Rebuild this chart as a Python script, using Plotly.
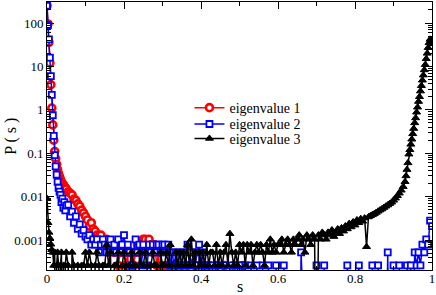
import numpy as np
import plotly.graph_objects as go

# ---------------- data ----------------
# fine bins near s = 0 (step 0.0025, s = 0 ... 0.05)
s_fine0 = np.round(np.arange(0, 0.05001, 0.0025), 4)
# coarse bins (step 0.005)
s_coarse_red = np.round(np.arange(0.055, 0.55001, 0.005), 4)
s_coarse_blue = np.round(np.arange(0.055, 1.00001, 0.005), 4)
s_coarse_black = np.round(np.arange(0.055, 0.93001, 0.005), 4)
# fine bins near s = 1 (step 0.0025)
s_fine1 = np.round(np.arange(0.9325, 1.00001, 0.0025), 4)

red_fine = [250, 95, 36, 12, 3.8, 1.1, 0.45, 0.2, 0.11, 0.075, 0.055, 0.042, 0.034,
            0.029, 0.025, 0.022, 0.02, 0.019, 0.017, 0.016, 0.015]
red_coarse = [
    0.013, 0.012, 0.011, 0.0088, 0.0082, 0.0068, 0.006, 0.0049, 0.0042, 0.0035,
    0.0029, 0.0021, 0.0025, 0.0018, 0.0016, 0.0013, 0.0012, 0.0013, 0.0009, 0.00078,
    0.00104, 0.00052, 0.00078, 0.00078, 0.00052, 0.00078, 0.00026, 0.00052, 0.00078, 0.00052,
    0.00026, 0.00052, 0, 0.00052, 0.00026, 0.00052, 0.00078, 0.00052, 0.00078, 0.00104,
    0.00104, 0.00078, 0.00104, 0.00078, 0.00052, 0.00078, 0.00026, 0.00052, 0, 0.00026,
    0, 0.00026, 0, 0.00026, 0, 0, 0.00026, 0, 0, 0.00026,
    0, 0, 0.00026, 0, 0, 0, 0.00026, 0, 0, 0,
    0.00026, 0, 0, 0.00026, 0, 0, 0, 0.00026, 0, 0,
    0, 0.00026, 0, 0, 0, 0, 0.00026, 0, 0, 0,
    0, 0.00026, 0, 0, 0, 0, 0, 0, 0, 0,
]

blue_fine = [250, 90, 42, 16, 6, 2.2, 0.75, 0.25, 0.09, 0.05, 0.032, 0.022, 0.016,
             0.013, 0.011, 0.0075, 0.009, 0.0055, 0.0075, 0.0048, 0.0062]
blue_coarse = [
    0.0065, 0.0035, 0.0045, 0.0025, 0.0035, 0.0018, 0.0023, 0.0014, 0.0017, 0.0012,
    0.00104, 0.0013, 0.00078, 0.00104, 0.00078, 0.00104, 0.00052, 0.00078, 0.00104, 0.00078,
    0.00052, 0.00078, 0.00104, 0.00052, 0.00078, 0.00052, 0.00104, 0.00052, 0.00078, 0.0013,
    0.00052, 0.00078, 0.00052, 0.00026, 0.00052, 0.00104, 0.00052, 0.00078, 0.00026, 0.00078,
    0.00052, 0.00026, 0.00078, 0.00052, 0.00078, 0.00052, 0.00078, 0.00078, 0.00052, 0.00078,
    0.00078, 0.00052, 0.00078, 0.00026, 0.00052, 0.00026, 0.00052, 0.00026, 0.00052, 0.00026,
    0.00052, 0.00026, 0.00078, 0.00052, 0.00026, 0.00052, 0.00026, 0.00052, 0.00078, 0.00026,
    0.00052, 0.00026, 0, 0.00026, 0, 0.00026, 0, 0, 0.00026, 0,
    0, 0.00026, 0, 0, 0.00026, 0, 0, 0, 0.00026, 0,
    0.00026, 0, 0.00026, 0, 0, 0.00026, 0, 0, 0.00026, 0,
    0, 0.00026, 0, 0, 0.00026, 0, 0, 0, 0.00026, 0,
    0, 0, 0.00026, 0, 0, 0, 0, 0, 0, 0,
    0, 0.00052, 0, 0, 0, 0, 0, 0, 0, 0.00026,
    0, 0, 0, 0.00026, 0, 0, 0, 0, 0, 0,
    0, 0, 0, 0, 0, 0.00026, 0, 0, 0, 0,
    0, 0.00026, 0, 0, 0, 0, 0, 0, 0.00026, 0,
    0, 0.00026, 0, 0, 0, 0, 0.00052, 0, 0, 0.00026,
    0, 0, 0.00026, 0, 0, 0, 0.00026, 0, 0.00026, 0,
    0.00052, 0.00026, 0.00052, 0.00026, 0.00078, 0.00052, 0.00104, 0.00078, 0.0028, 0.0021,
]

black_fine0 = [0.009, 0.0025, 0.0015, 0.0011, 0.0008, 0.0006, 0.00052, 0.00026, 0.00052, 0,
               0.00026, 0.00052, 0.00026, 0, 0.00026, 0.00052, 0, 0.00026, 0, 0.00026, 0.00052]
black_coarse = [
    0.00026, 0, 0.00052, 0.00026, 0, 0.00026, 0, 0.00026, 0.00026, 0.00052,
    0.00026, 0.00052, 0.00026, 0, 0.00026, 0.00052, 0.00026, 0, 0.00026, 0.00026,
    0.00078, 0.00026, 0.00052, 0, 0.00026, 0.00026, 0.00052, 0, 0.00026, 0.00052,
    0.00026, 0, 0.00026, 0.00052, 0.00026, 0.00026, 0, 0.00052, 0.00026, 0.00026,
    0.00052, 0.00026, 0, 0.00026, 0.00052, 0.00026, 0.00026, 0, 0.00052, 0.00026,
    0.00026, 0.00052, 0.00026, 0.00078, 0.00026, 0, 0.00052, 0.00026, 0.00052, 0.00026,
    0.00052, 0.00026, 0.00078, 0.00026, 0.00104, 0.00026, 0.00052, 0, 0.00052, 0.00026,
    0.00052, 0.00026, 0.00078, 0.00026, 0.00052, 0.00052, 0.00026, 0.00078, 0.00026, 0.00052,
    0.00026, 0.00052, 0.00078, 0.00026, 0.0014, 0.00052, 0.00026, 0.00052, 0.00026, 0.00078,
    0.00052, 0.00078, 0.00026, 0.00078, 0.00052, 0.00078, 0.00026, 0.00052, 0.00078, 0.00052,
    0.00078, 0.00052, 0.00026, 0.00078, 0.00052, 0.00104, 0.00052, 0.00078, 0.00052, 0.00078,
    0.00078, 0.00104, 0.00052, 0.00078, 0.00104, 0.00078, 0.00052, 0.00104, 0.00078, 0.00104,
    0.0013, 0.00078, 0.00104, 0.00052, 0.0013, 0.00104, 0.00078, 0.0013, 0.00104, 0,
    0.0013, 0.00104, 0.0015, 0.0013, 0.00104, 0.0015, 0.0013, 0.0017, 0.0012, 0.0015,
    0.0018, 0.0014, 0.0019, 0.0016, 0.0021, 0.0018, 0.0024, 0.002, 0.0026, 0.0022,
    0.0029, 0.0025, 0.0031, 0.0027, 0.0032, 0.0007, 0.0034, 0.0036, 0.0038, 0.004,
    0.0043, 0.0046, 0.0049, 0.0052, 0.0056, 0.006, 0.0064, 0.0069, 0.0074, 0.0082,
    0.0092, 0.0105, 0.012, 0.014, 0.017, 0.022,
]
black_fine1 = [0.03, 0.042, 0.06, 0.095, 0.12, 0.16, 0.21, 0.28, 0.37, 0.5, 0.65, 0.88,
               1.15, 1.55, 2.0, 2.7, 3.6, 4.8, 6.3, 8.3, 11, 15, 20, 27, 35, 42, 41, 33]

names = ["eigenvalue 1", "eigenvalue 2", "eigenvalue 3"]
ytick_vals = [0.001, 0.01, 0.1, 1, 10, 100]
ytick_text = ["0.001", "0.01", "0.1", "1", "10", "100"]
xtick_vals = [0, 0.2, 0.4, 0.6, 0.8, 1]
xtick_text = ["0", "0.2", "0.4", "0.6", "0.8", "1"]

# empty histogram bins (0) cannot sit on a log axis: drop them far below the frame
FLOOR = 1e-7
def prep(vals):
    return [v if v > 0 else FLOOR for v in vals]

s1 = list(s_fine0) + list(s_coarse_red)
p1 = prep(red_fine + red_coarse)
s2 = list(s_fine0) + list(s_coarse_blue)
p2 = prep(blue_fine + blue_coarse)
s3 = list(s_fine0) + list(s_coarse_black) + list(s_fine1)
p3 = prep(black_fine0 + black_coarse + black_fine1)

FONT = "'Liberation Serif', 'Times New Roman', Times, serif"

fig = go.Figure()
fig.add_trace(go.Scatter(
    x=s1, y=p1, name=names[0], mode="lines+markers", legend="legend",
    line=dict(color="#ff0000", width=1.5),
    marker=dict(symbol="circle", size=7, color="white", line=dict(color="#ff0000", width=2.6)),
))
fig.add_trace(go.Scatter(
    x=s2, y=p2, name=names[1], mode="lines+markers", legend="legend2",
    line=dict(color="#0000ff", width=1.5),
    marker=dict(symbol="square", size=6, color="white", line=dict(color="#0000ff", width=1.8)),
))
fig.add_trace(go.Scatter(
    x=s3, y=p3, name=names[2], mode="lines+markers", legend="legend3",
    line=dict(color="#000000", width=1.5),
    marker=dict(symbol="triangle-up", size=7, color="black", line=dict(color="black", width=1)),
))

axis_common = dict(
    showline=True, linecolor="black", linewidth=1, mirror="allticks",
    ticks="inside", ticklen=7, tickwidth=1, tickcolor="black",
    showgrid=False, zeroline=False,
    tickfont=dict(family=FONT, size=13, color="black"),
)

fig.update_xaxes(
    range=[0, 1], tickvals=xtick_vals, ticktext=xtick_text, ticklabelstandoff=-4,
    minor=dict(ticks="inside", ticklen=4, dtick=0.1, tickcolor="black", showgrid=False),
    **axis_common,
)
fig.update_yaxes(
    type="log", range=[np.log10(0.000204), np.log10(305)],
    tickvals=ytick_vals, ticktext=ytick_text,
    minor=dict(ticks="inside", ticklen=4, tickcolor="black", showgrid=False,
               tickvals=[m * 10.0 ** e for e in range(-4, 3) for m in range(2, 10)]),
    **axis_common,
)

fig.add_annotation(text="s", xref="paper", yref="paper", x=0.5, y=-0.063,
                   showarrow=False, yanchor="middle",
                   font=dict(family=FONT, size=16, color="black"))
fig.add_annotation(text="P ( s )", xref="paper", yref="paper", x=-0.094, y=0.5,
                   showarrow=False, textangle=-90, xanchor="center",
                   font=dict(family=FONT, size=16, color="black"))

leg_common = dict(x=0.37, xanchor="left", yanchor="top",
                  bgcolor="rgba(0,0,0,0)", borderwidth=0,
                  font=dict(family=FONT, size=14, color="black"))

fig.update_layout(
    width=436, height=295,
    margin=dict(l=47, r=4, t=2, b=25),
    paper_bgcolor="white", plot_bgcolor="white",
    font=dict(family=FONT, color="black"),
    showlegend=True,
    legend=dict(y=0.664, **leg_common),
    legend2=dict(y=0.603, **leg_common),
    legend3=dict(y=0.549, **leg_common),
)

fig.write_html("out.html",
               config={"displayModeBar": False},
               post_script="document.body.style.margin='0';document.body.style.padding='0';")
